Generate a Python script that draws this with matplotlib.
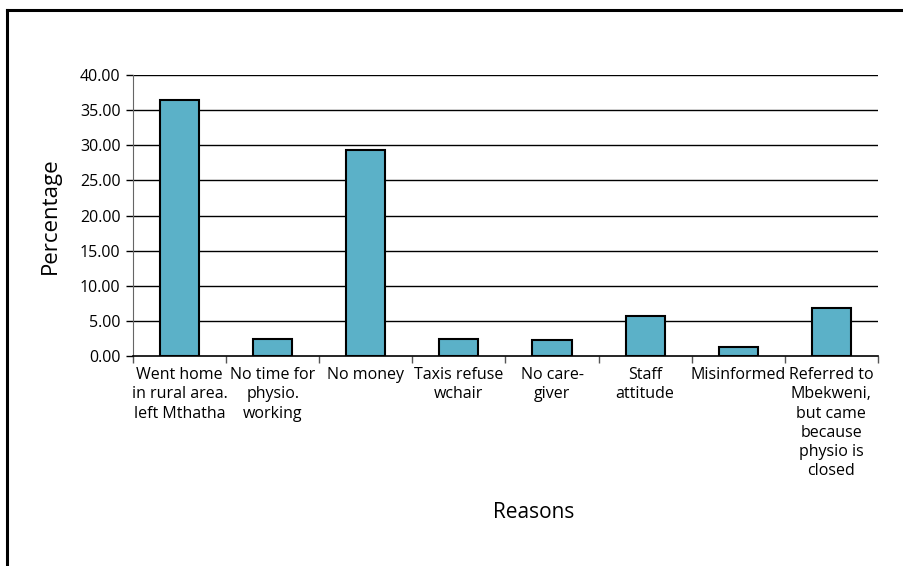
import matplotlib
matplotlib.use('Agg')
import matplotlib.pyplot as plt
from matplotlib.lines import Line2D
import numpy as np

plt.rcParams['font.family'] = ['Open Sans', 'DejaVu Sans']

reasons = ['Went home\nin rural area.\nleft Mthatha',
           'No time for\nphysio.\nworking',
           'No money',
           'Taxis refuse\nwchair',
           'No care-\ngiver',
           'Staff\nattitude',
           'Misinformed',
           'Referred to\nMbekweni,\nbut came\nbecause\nphysio is\nclosed']
percentage = [36.4, 2.4, 29.3, 2.4, 2.3, 5.7, 1.3, 6.9]
yticks = [0, 5, 10, 15, 20, 25, 30, 35, 40]

fig = plt.figure(figsize=(9.04, 5.66), dpi=100)
ax = fig.add_axes([0.1471, 0.371, 0.8241, 0.4965])

x = np.arange(len(reasons))
ax.bar(x, percentage, width=0.42, color='#5bb1c8', edgecolor='black', linewidth=1.5, zorder=3)

ax.set_xlim(-0.5, len(reasons) - 0.5)
ax.set_ylim(0, 40)
ax.set_yticks(yticks)
ax.set_yticklabels(['%.2f' % v for v in yticks], fontsize=11.5)
for v in yticks[1:]:
    ax.axhline(v, color='black', linewidth=1, zorder=1)

ax.set_xticks(np.arange(len(reasons) + 1) - 0.5)
ax.set_xticklabels([])
ax.set_xticks(x, minor=True)
ax.set_xticklabels(reasons, minor=True, fontsize=11.5, linespacing=1.27, va='top')
ax.tick_params(axis='x', which='minor', length=0, pad=8)
ax.tick_params(axis='x', which='major', length=5, color='#555555', width=1)
ax.tick_params(axis='y', length=5, color='black', width=1, pad=4)

for s in ['top', 'right']:
    ax.spines[s].set_visible(False)
ax.spines['left'].set_color('#666666')
ax.spines['bottom'].set_color('black')
ax.spines['bottom'].set_linewidth(1.2)

ax.set_ylabel('Percentage', fontsize=16, labelpad=14)
ax.set_xlabel('Reasons', fontsize=15)
ax.xaxis.set_label_coords(0.538, -0.52)

# frame around the figure (only top and left edges are visible in crop)
fig.add_artist(Line2D([0.0077, 0.0077], [0, 0.9823], color='black', linewidth=2.2, transform=fig.transFigure))
fig.add_artist(Line2D([0.0077, 1.0], [0.9823, 0.9823], color='black', linewidth=2.2, transform=fig.transFigure))

fig.savefig('out.png', dpi=100)
